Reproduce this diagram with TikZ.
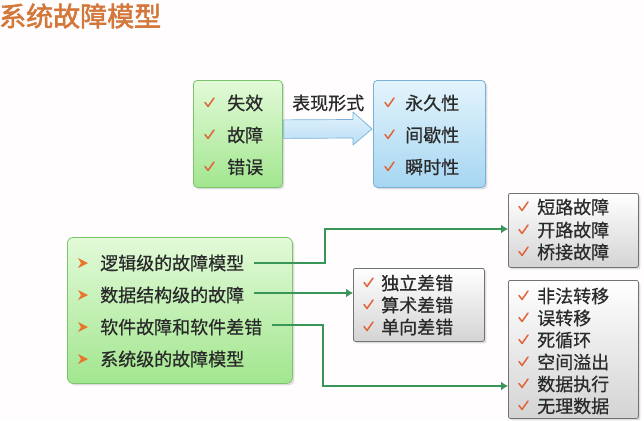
\documentclass[tikz,border=0pt]{standalone}
\usepackage{fontspec}
\setmainfont{Noto Sans CJK SC}[FakeBold=0.6]
\newfontfamily\titlefont{Noto Sans CJK SC}[FakeBold=2]
\usetikzlibrary{shadows,calc,arrows.meta}
\definecolor{txt}{HTML}{2A2A2A}
\definecolor{conn}{HTML}{3A9658}
\definecolor{chkc}{HTML}{E0643A}
\definecolor{bulc}{HTML}{E8762B}
\definecolor{titc}{HTML}{D4773A}
\definecolor{gtop}{HTML}{E2FAD8}
\definecolor{gbot}{HTML}{A2E68F}
\definecolor{gbd}{HTML}{7CC46C}
\definecolor{btop}{HTML}{E4F4FC}
\definecolor{bbot}{HTML}{A6D6F2}
\definecolor{bbd}{HTML}{78B0D8}
\tikzset{
  x=1pt,y=-1pt,
  box/.style={draw, rounded corners=4pt, line width=0.8pt, anchor=north west, inner sep=0pt,
    drop shadow={opacity=0.25, shadow xshift=2pt, shadow yshift=-2pt}},
  greenbox/.style={box, draw=gbd, top color=gtop, bottom color=gbot},
  bluebox/.style={box, draw=bbd, top color=btop, bottom color=bbot},
  graybox/.style={box, rounded corners=2pt, draw=black!55, top color=white, bottom color=black!17},
  item/.style={anchor=west, inner sep=0pt, text=txt, font=\fontsize{18}{20}\selectfont},
  conline/.style={draw=conn, line width=2.6pt, -{Latex[length=7pt,width=9pt]}},
  chk/.pic={\draw[chkc, line width=1.5pt, line cap=round, line join=round] (-4,-0.5) -- (-1,3.5) -- (5,-5);},
  bul/.pic={\fill[bulc] (-5,-5) -- (5,0) -- (-5,5) -- (-2,0) -- cycle;}
}
\begin{document}
\begin{tikzpicture}
\useasboundingbox (0,0) rectangle (644,420);
\fill[white!97!pink] (0,0) rectangle (644,420);
% title
\node[anchor=west, inner sep=0pt, text=titc, font=\titlefont\fontsize{27}{30}\selectfont] (title) at (-1,16) {系统故障模型};

% top boxes
\node[greenbox, minimum width=89pt, minimum height=107pt] (tl) at (193,80) {};
\node[bluebox, minimum width=112pt, minimum height=107pt] (tr) at (373,80) {};
% block arrow
\draw[draw=bbd, line width=0.7pt, top color=btop, bottom color=bbot!80, line join=round]
  ($(tl.east)+(1,-14)$) -- (353,119.5) -- (353,112) -- ($(tr.west)+(-1,-5)$) -- (353,145) -- (353,138) -- ($(tl.east)+(1,4.5)$) -- cycle;
\node[item] (lab) at (292,103) {表现形式};

\foreach \t/\y/\n in {失效/103/a1, 故障/135/a2, 错误/167/a3}{
  \pic at (209,\y) {chk};
  \node[item] (\n) at (227,\y) {\t};
}
\foreach \t/\y/\n in {永久性/103/b1, 间歇性/135/b2, 瞬时性/167/b3}{
  \pic at (389,\y) {chk};
  \node[item] (\n) at (405,\y) {\t};
}

% big green box
\node[greenbox, minimum width=225pt, minimum height=146pt, rounded corners=6pt] (big) at (67,237) {};
\foreach \t/\y/\n in {逻辑级的故障模型/263/l1, 数据结构级的故障/295/l2, 软件故障和软件差错/327/l3, 系统级的故障模型/359/l4}{
  \pic at (83,\y) {bul};
  \node[item] (\n) at (100,\y) {\t};
}

% gray boxes
\node[graybox, minimum width=131pt, minimum height=73pt] (g2) at (353,268) {};
\node[graybox, minimum width=130pt, minimum height=74pt] (g1) at (508,193) {};
\node[graybox, minimum width=130pt, minimum height=138pt] (g3) at (508,280) {};

\foreach \t/\y/\n in {独立差错/283/c1, 算术差错/305/c2, 单向差错/327/c3}{
  \pic at (368,\y) {chk};
  \node[item] (\n) at (381,\y) {\t};
}
\foreach \t/\y/\n in {短路故障/207/d1, 开路故障/230/d2, 桥接故障/252/d3}{
  \pic at (523,\y) {chk};
  \node[item] (\n) at (537,\y) {\t};
}
\foreach \t/\y/\n in {非法转移/296/e1, 误转移/318/e2, 死循环/340/e3, 空间溢出/362/e4, 数据执行/384/e5, 无理数据/406/e6}{
  \pic at (523,\y) {chk};
  \node[item] (\n) at (537,\y) {\t};
}

% connectors
\coordinate (k1) at (325,263);
\coordinate (k3) at (323,325);
\coordinate (y1) at (0,229);
\coordinate (y2) at (0,293);
\coordinate (y3) at (0,386);
\draw[conline] ($(l1.east)+(10,0)$) -- (k1) |- (g1.west |- y1);
\draw[conline] ($(l2.east)+(10,-2)$) -- (g2.west |- y2);
\draw[conline] ($(l3.east)+(10,-2)$) -- (k3) |- (g3.west |- y3);
\end{tikzpicture}
\end{document}
